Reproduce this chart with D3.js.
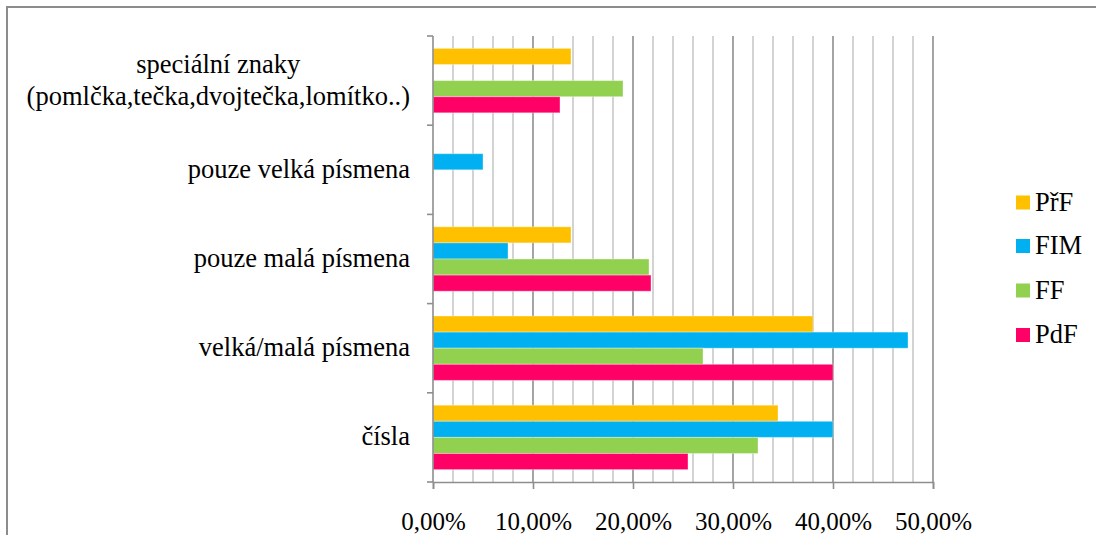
<!DOCTYPE html>
<html><head><meta charset="utf-8">
<script src="https://cdn.jsdelivr.net/npm/d3@7"></script>
<style>html,body{margin:0;padding:0;background:#fff;overflow:hidden}
svg text{font-family:"Liberation Serif","Tinos","Times New Roman","DejaVu Serif",serif;}</style>
</head><body>
<svg id="chart" width="1096" height="535"></svg>
<script>
// ---- data ----
const categories = [
  ["speciální znaky", "(pomlčka,tečka,dvojtečka,lomítko..)"],
  ["pouze velká písmena"],
  ["pouze malá písmena"],
  ["velká/malá písmena"],
  ["čísla"]
];
const seriesNames = ["PřF", "FIM", "FF", "PdF"];
const seriesColors = ["#FFC000", "#00B0F0", "#92D050", "#FF0066"];
const valuesPrF = [0.138, 0.000, 0.138, 0.380, 0.345];
const valuesFIM = [0.000, 0.050, 0.075, 0.475, 0.400];
const valuesFF  = [0.190, 0.000, 0.216, 0.270, 0.325];
const valuesPdF = [0.127, 0.000, 0.218, 0.400, 0.255];
const tickValues = [0, 0.1, 0.2, 0.3, 0.4, 0.5];
const tickLabels = ["0,00%", "10,00%", "20,00%", "30,00%", "40,00%", "50,00%"];

const seriesValues = [valuesPrF, valuesFIM, valuesFF, valuesPdF];

(function () {
const svg = d3.select("#chart");

// frame
svg.append("rect").attr("x", 7).attr("y", 7).attr("width", 1200).attr("height", 700)
  .attr("fill", "none").attr("stroke", "#8c8c8c").attr("stroke-width", 2);

const pLeft = 433, pRight = 933, pTop = 36, pBottom = 482;
const x = d3.scaleLinear().domain([0, 0.5]).range([pLeft, pRight]);
const catIdx = d3.range(categories.length);
const y = d3.scaleBand().domain(catIdx).range([pTop, pBottom]).padding(0);
const bw = y.bandwidth();
const pad = bw * 0.139;
const yInner = d3.scaleBand().domain(d3.range(seriesNames.length)).range([pad, bw - pad]).padding(0);

// gridlines
const gridVals = d3.range(1, 26).map(i => i * 0.02);
svg.append("g").selectAll("line").data(gridVals).join("line")
  .attr("x1", d => x(d)).attr("x2", d => x(d))
  .attr("y1", pTop).attr("y2", pBottom)
  .attr("stroke", d => (Math.round(d * 100) % 10 === 0) ? "#8e8e8e" : "#c8c8c8")
  .attr("stroke-width", 1.6);

// bars
const barsG = svg.append("g");
seriesValues.forEach((vals, si) => {
  barsG.append("g").selectAll("rect").data(vals.map((v, ci) => ({v, ci})).filter(d => d.v > 0)).join("rect")
    .attr("x", x(0))
    .attr("y", d => y(d.ci) + yInner(si))
    .attr("width", d => x(d.v) - x(0))
    .attr("height", yInner.bandwidth())
    .attr("fill", seriesColors[si])
    .attr("stroke", "rgba(255,255,255,0.35)")
    .attr("stroke-width", 1);
});

// y axis
const yAxisG = svg.append("g");
yAxisG.append("line").attr("x1", pLeft).attr("x2", pLeft).attr("y1", pTop).attr("y2", pBottom)
  .attr("stroke", "#8e8e8e").attr("stroke-width", 1.6);
const catTicks = catIdx.map(i => y(i)).concat([pBottom]);
yAxisG.selectAll("line.t").data(catTicks).join("line").attr("class", "t")
  .attr("x1", pLeft - 6).attr("x2", pLeft).attr("y1", d => d).attr("y2", d => d)
  .attr("stroke", "#8e8e8e").attr("stroke-width", 1.6);

// x axis
const xAxis = d3.axisBottom(x).tickValues(tickValues).tickFormat((d, i) => tickLabels[i]).tickSize(7).tickPadding(20);
const xg = svg.append("g").attr("transform", `translate(0,${pBottom})`).call(xAxis);
xg.attr("font-family", null);
xg.select(".domain").attr("stroke", "#8e8e8e").attr("stroke-width", 1.6);
xg.selectAll(".tick line").attr("stroke", "#8e8e8e").attr("stroke-width", 1.6);
xg.selectAll(".tick text").attr("font-size", 25).attr("fill", "#000")
  .attr("dy", null).attr("y", 48);

// category labels
const labelRight = 410;
categories.forEach((lines, ci) => {
  const g = svg.append("g");
  const cy = y(ci) + bw / 2;
  const lh = 32;
  const texts = lines.map((ln, li) => g.append("text")
    .attr("font-size", 26.5).attr("fill", "#000")
    .attr("y", cy + (li - (lines.length - 1) / 2) * lh + 8)
    .text(ln));
  const maxW = d3.max(texts, t => t.node().getComputedTextLength());
  texts.forEach(t => t.attr("x", labelRight - maxW / 2).attr("text-anchor", "middle"));
});

// legend
const legendY = [202.5, 246, 290.5, 335];
const lg = svg.append("g");
seriesNames.forEach((name, i) => {
  lg.append("rect").attr("x", 1016).attr("y", legendY[i] - 7).attr("width", 14).attr("height", 14)
    .attr("fill", seriesColors[i]);
  lg.append("text").attr("x", 1035).attr("y", legendY[i] + 8)
    .attr("font-size", 26.5).attr("fill", "#000").text(name);
});
})();
</script>
</body></html>
